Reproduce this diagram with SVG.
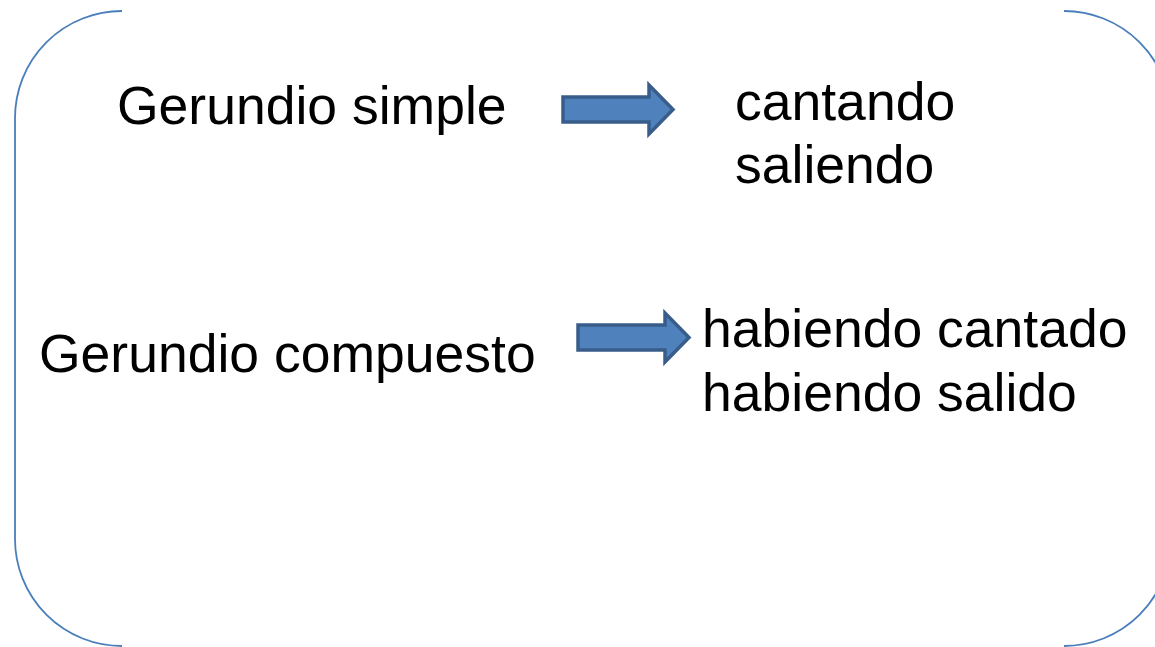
<svg xmlns="http://www.w3.org/2000/svg" width="1155" height="647" viewBox="0 0 1155 647">
  <defs>
    <style>
      .frame { fill: none; stroke: #4a7ebb; stroke-width: 1.8; }
      .arrow { fill: #4f81bd; stroke: #385d8a; stroke-width: 3.5; stroke-linejoin: miter; }
      .label { font-family: "Liberation Sans", Arial, sans-serif; font-size: 53.5px; fill: #000000; }
    </style>
  </defs>
  <rect width="1155" height="647" fill="#ffffff"/>
  <g id="frame">
    <path class="frame" d="M122,11 A107,107 0 0 0 15,118 L15,539 A107,107 0 0 0 122,646"/>
    <path class="frame" d="M1064,11 A107,107 0 0 1 1171,118 L1171,539 A107,107 0 0 1 1064,646"/>
  </g>
  <g id="node-simple">
    <text class="label" x="117" y="124">Gerundio simple</text>
  </g>
  <g id="node-simple-examples">
    <text class="label" x="735" y="120">cantando</text>
    <text class="label" x="735" y="183">saliendo</text>
  </g>
  <g id="node-compuesto">
    <text class="label" x="39" y="372">Gerundio compuesto</text>
  </g>
  <g id="node-compuesto-examples">
    <text class="label" x="702" y="347">habiendo cantado</text>
    <text class="label" x="702" y="411">habiendo salido</text>
  </g>
  <g id="connectors">
    <path class="arrow" d="M563,97 L649,97 L649,85 L673,109.5 L649,134 L649,122 L563,122 Z"/>
    <path class="arrow" d="M578,325 L665,325 L665,313 L689,337.5 L665,362 L665,350 L578,350 Z"/>
  </g>
</svg>
